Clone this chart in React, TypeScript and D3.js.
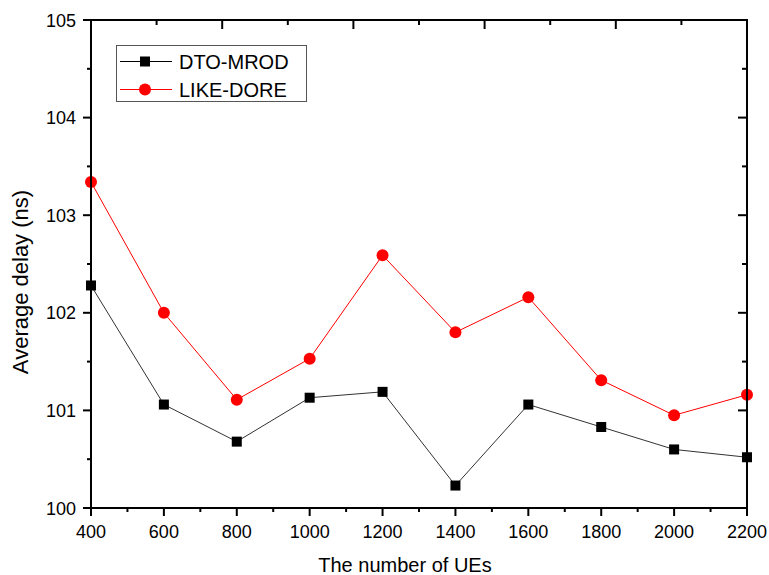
import React from "react";
import * as d3 from "d3";

const ues = [400, 600, 800, 1000, 1200, 1400, 1600, 1800, 2000, 2200];
const dtoMrod = [102.28, 101.06, 100.68, 101.13, 101.19, 100.23, 101.06, 100.83, 100.6, 100.52];
const likeDore = [103.34, 102.0, 101.11, 101.53, 102.59, 101.8, 102.16, 101.31, 100.95, 101.16];
const xTicks = [400, 600, 800, 1000, 1200, 1400, 1600, 1800, 2000, 2200];
const yTicks = [100, 101, 102, 103, 104, 105];
const seriesNames = ["DTO-MROD", "LIKE-DORE"];

const W = 769, H = 575;
const L = 91, R = 747, T = 20, B = 508;
const FONT = "Arial, 'Liberation Sans', Helvetica, sans-serif";

export default function App() {
  const x = d3.scaleLinear().domain([400, 2200]).range([L, R]);
  const y = d3.scaleLinear().domain([100, 105]).range([B, T]);
  const line = d3.line<number>().x((_, i) => x(ues[i])).y((d) => y(d));
  const xMinor = d3.range(500, 2200, 200);
  const yMinor = d3.range(100.5, 105, 1);
  const topTicks = d3.range(0, 11);
  const topScale = d3.scaleLinear().domain([0, 10]).range([L, R]);

  return (
    <svg width={W} height={H} style={{ position: "absolute", left: 0, top: 0, background: "#fff" }} fontFamily={FONT}>
      {/* series */}
      <path d={line(dtoMrod) || ""} fill="none" stroke="#333" strokeWidth={1} />
      <path d={line(likeDore) || ""} fill="none" stroke="#ff0000" strokeWidth={1} />
      {dtoMrod.map((v, i) => (
        <rect key={"s" + i} x={x(ues[i]) - 5} y={y(v) - 5} width={10} height={10} fill="#000" />
      ))}
      {likeDore.map((v, i) => (
        <circle key={"c" + i} cx={x(ues[i])} cy={y(v)} r={6} fill="#ff0000" />
      ))}

      {/* frame */}
      <rect x={L} y={T} width={R - L} height={B - T} fill="none" stroke="#000" strokeWidth={2} />

      {/* bottom ticks */}
      {xTicks.map((t) => (
        <g key={"xt" + t}>
          <line x1={x(t)} x2={x(t)} y1={B} y2={B + 8} stroke="#000" strokeWidth={2} />
          <text x={x(t)} y={538} fontSize={18} textAnchor="middle" fill="#000">{t}</text>
        </g>
      ))}
      {xMinor.map((t) => (
        <line key={"xm" + t} x1={x(t)} x2={x(t)} y1={B} y2={B + 4} stroke="#000" strokeWidth={2} />
      ))}
      {/* top ticks */}
      {topTicks.map((k) => (
        <line key={"tt" + k} x1={topScale(k)} x2={topScale(k)} y1={T} y2={T + (k % 2 === 0 ? 9 : 5)} stroke="#000" strokeWidth={2} />
      ))}
      {/* left ticks */}
      {yTicks.map((t) => (
        <g key={"yt" + t}>
          <line x1={L - 8} x2={L} y1={y(t)} y2={y(t)} stroke="#000" strokeWidth={2} />
          <line x1={R - 9} x2={R} y1={y(t)} y2={y(t)} stroke="#000" strokeWidth={2} />
          <text x={76} y={y(t) + 6.5} fontSize={18} textAnchor="end" fill="#000">{t}</text>
        </g>
      ))}
      {yMinor.map((t) => (
        <g key={"ym" + t}>
          <line x1={L - 4} x2={L} y1={y(t)} y2={y(t)} stroke="#000" strokeWidth={2} />
          <line x1={R - 5} x2={R} y1={y(t)} y2={y(t)} stroke="#000" strokeWidth={2} />
        </g>
      ))}

      {/* axis titles */}
      <text x={405} y={572} fontSize={20} textAnchor="middle" fill="#000">The number of UEs</text>
      <text transform={`translate(28, 282) rotate(-90)`} fontSize={22} textAnchor="middle" fill="#000">Average delay (ns)</text>

      {/* legend */}
      <rect x={116.5} y={45.5} width={190} height={56} fill="#fff" stroke="#555" strokeWidth={1} />
      <line x1={120} x2={172} y1={61.5} y2={61.5} stroke="#000" strokeWidth={1} />
      <rect x={140} y={56.5} width={10} height={10} fill="#000" />
      <text x={179} y={69} fontSize={20} fill="#000">{seriesNames[0]}</text>
      <line x1={120} x2={172} y1={89.5} y2={89.5} stroke="#ff0000" strokeWidth={1} />
      <circle cx={145} cy={89.5} r={6} fill="#ff0000" />
      <text x={179} y={97} fontSize={20} fill="#000">{seriesNames[1]}</text>
    </svg>
  );
}
